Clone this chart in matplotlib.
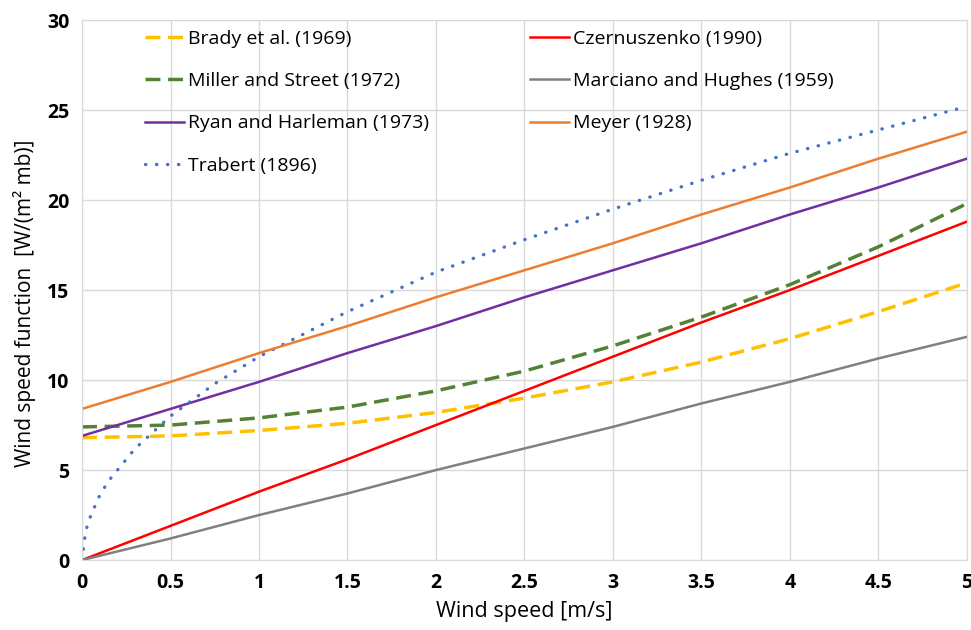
import matplotlib.pyplot as plt
import numpy as np

plt.rcParams['font.family'] = ['Open Sans', 'DejaVu Sans']

# values
wind = [0, 0.5, 1, 1.5, 2, 2.5, 3, 3.5, 4, 4.5, 5]
brady = [6.8, 6.9, 7.2, 7.6, 8.2, 9.0, 9.9, 11.0, 12.3, 13.8, 15.4]
miller = [7.4, 7.5, 7.9, 8.5, 9.4, 10.5, 11.9, 13.5, 15.3, 17.4, 19.8]
ryan = [6.9, 8.4, 9.9, 11.5, 13.0, 14.6, 16.1, 17.6, 19.2, 20.7, 22.3]
czern = [0, 1.9, 3.8, 5.6, 7.5, 9.4, 11.3, 13.2, 15.0, 16.9, 18.8]
marciano = [0, 1.2, 2.5, 3.7, 5.0, 6.2, 7.4, 8.7, 9.9, 11.2, 12.4]
meyer = [8.4, 9.9, 11.5, 13.0, 14.6, 16.1, 17.6, 19.2, 20.7, 22.3, 23.8]

trabert_x = [0, 0.02, 0.05, 0.1, 0.15, 0.2, 0.3, 0.4, 0.5, 0.75, 1, 1.5, 2, 2.5, 3, 3.5, 4, 4.5, 5]
trabert = [0, 1.6, 2.5, 3.6, 4.4, 5.0, 6.2, 7.1, 8.0, 9.8, 11.3, 13.8, 16.0, 17.8, 19.5, 21.1, 22.6, 23.9, 25.2]

fig = plt.figure(figsize=(9.71, 6.30), dpi=100)
ax = fig.add_axes([0.0845, 0.111, 0.911, 0.857])

ax.plot(wind, brady, color='#FFC000', lw=2.5, ls=(0, (4.3, 2.2)), label='Brady et al. (1969)')
ax.plot(wind, miller, color='#548235', lw=2.5, ls=(0, (4.3, 2.2)), label='Miller and Street (1972)')
ax.plot(wind, ryan, color='#7030A0', lw=1.8, label='Ryan and Harleman (1973)')
ax.plot(trabert_x, trabert, color='#4472C4', lw=2.4, ls=(0, (0.1, 3.2)),
        dash_capstyle='round', label='Trabert (1896)')
ax.plot(wind, czern, color='#FF0000', lw=1.8, label='Czernuszenko (1990)')
ax.plot(wind, marciano, color='#808080', lw=1.8, label='Marciano and Hughes (1959)')
ax.plot(wind, meyer, color='#ED7D31', lw=1.8, label='Meyer (1928)')

ax.set_xlim(0, 5)
ax.set_ylim(0, 30)
ax.set_xticks(np.arange(0, 5.01, 0.5))
ax.set_xticklabels(['0', '0.5', '1', '1.5', '2', '2.5', '3', '3.5', '4', '4.5', '5'])
ax.set_yticks(range(0, 31, 5))
ax.grid(True, color='#d9d9d9', lw=1)
ax.set_axisbelow(True)
for s in ax.spines.values():
    s.set_color('#d9d9d9')
ax.tick_params(length=0, labelsize=14, pad=9)
for lab in ax.get_xticklabels() + ax.get_yticklabels():
    lab.set_fontweight('bold')

ax.set_xlabel('Wind speed [m/s]', fontsize=15.5, labelpad=6)
ax.set_ylabel('Wind speed function  [W/(m² mb)]', fontsize=15)
ax.yaxis.set_label_coords(-0.052, 0.475)

ax.legend(loc='upper left', bbox_to_anchor=(0.071, 0.982), ncol=2, frameon=False,
          fontsize=14, labelspacing=1.25, columnspacing=5.2, handlelength=2.0,
          handletextpad=0.2, borderpad=0, borderaxespad=0)

fig.savefig('out.png', dpi=100)
